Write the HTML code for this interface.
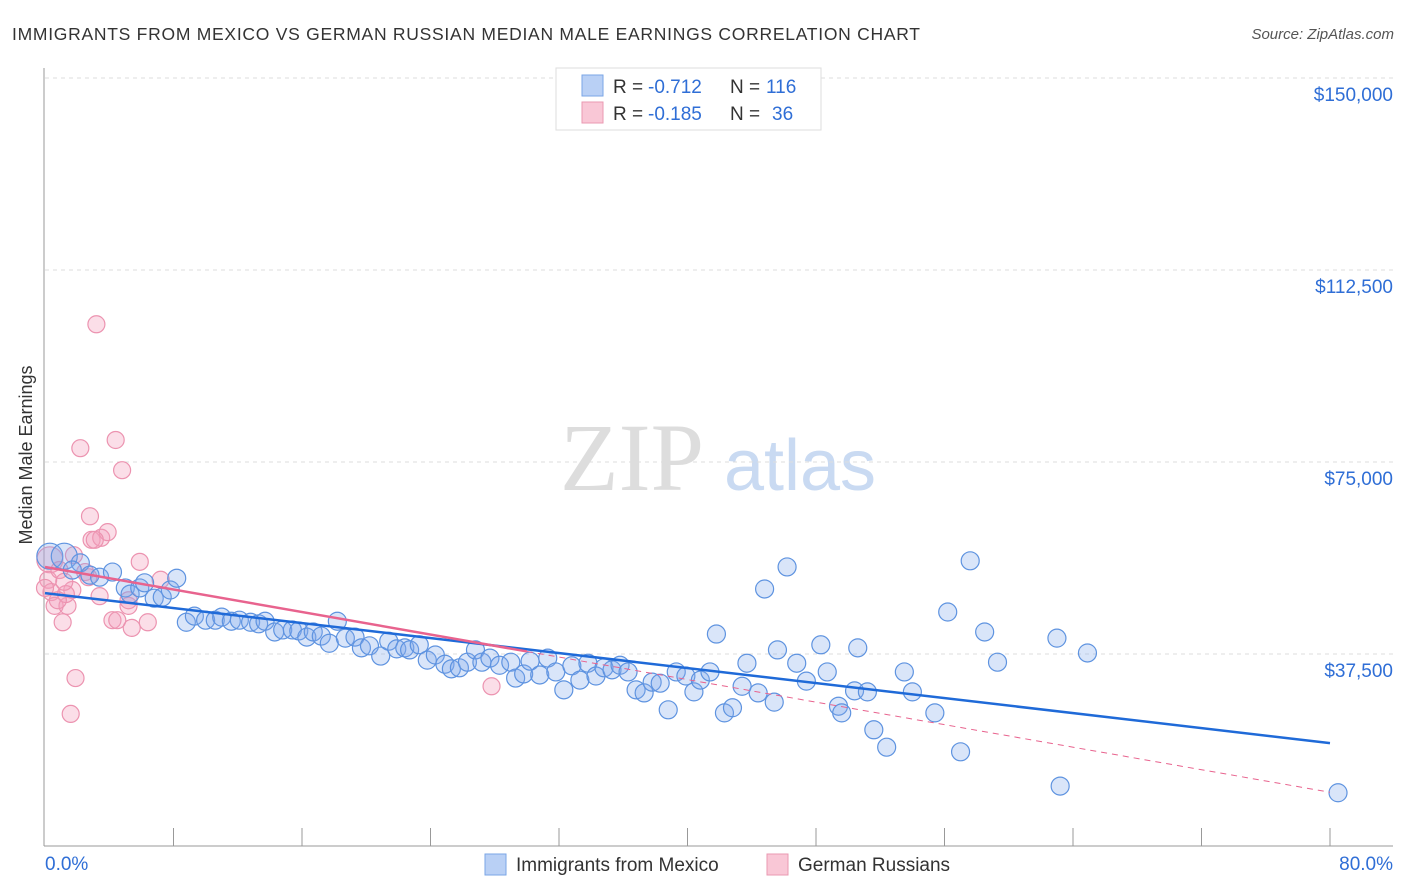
<!DOCTYPE html>
<html><head><meta charset="utf-8"><style>
body{margin:0;background:#fff;font-family:"Liberation Sans",sans-serif;}
svg{display:block}
</style></head><body>
<svg id="chart" width="1406" height="892">
<text x="12" y="40" font-size="17.5" fill="#333" textLength="908" lengthAdjust="spacing">IMMIGRANTS FROM MEXICO VS GERMAN RUSSIAN MEDIAN MALE EARNINGS CORRELATION CHART</text>
<text x="1394" y="39" font-size="15" fill="#555" font-style="italic" text-anchor="end">Source: ZipAtlas.com</text>
<text x="32" y="455" font-size="18" fill="#333" text-anchor="middle" transform="rotate(-90 32 455)">Median Male Earnings</text>
<g>
<text x="632" y="490" font-size="96" font-family="Liberation Serif,serif" fill="#ddd" text-anchor="middle">ZIP</text>
<text x="800" y="490" font-size="72" fill="#c9daf2" text-anchor="middle">atlas</text>
</g>
<g id="grid"></g><g id="axes"></g><g id="marks"></g>
<g>
<rect x="556" y="68" width="265" height="62" fill="#fff" stroke="#ddd"/>
<rect x="582" y="75" width="21" height="21" fill="#b9d0f5" stroke="#7aa6e6"/>
<rect x="582" y="102" width="21" height="21" fill="#f9c7d6" stroke="#ea98b1"/>
<text x="613" y="93" font-size="19" fill="#333">R =</text><text x="648" y="93" font-size="19" fill="#2f6ed6">-0.712</text>
<text x="730" y="93" font-size="19" fill="#333">N =</text><text x="766" y="93" font-size="19" fill="#2f6ed6">116</text>
<text x="613" y="120" font-size="19" fill="#333">R =</text><text x="648" y="120" font-size="19" fill="#2f6ed6">-0.185</text>
<text x="730" y="120" font-size="19" fill="#333">N =</text><text x="772" y="120" font-size="19" fill="#2f6ed6">36</text>
</g>
<g>
<rect x="485" y="854" width="21" height="21" fill="#b9d0f5" stroke="#7aa6e6"/>
<text x="516" y="871" font-size="19" fill="#333">Immigrants from Mexico</text>
<rect x="767" y="854" width="21" height="21" fill="#f9c7d6" stroke="#ea98b1"/>
<text x="798" y="871" font-size="19" fill="#333">German Russians</text>
</g>
</svg>
<script>
const yTicks=[37500,75000,112500,150000];
const yTickLabels=["$37,500","$75,000","$112,500","$150,000"];
const xLabels=["0.0%","80.0%"];
const mexX=[0.3,1.2,2.2,1.7,2.8,3.4,4.2,5.0,5.3,5.9,6.2,6.8,7.3,7.8,8.2,8.8,9.3,10.0,10.6,11.0,11.6,12.1,12.8,13.3,13.7,14.3,14.8,15.4,15.8,16.3,16.7,17.2,17.7,18.2,18.7,19.3,19.7,20.2,20.9,21.4,21.9,22.4,22.7,23.3,23.8,24.3,24.9,25.3,25.8,26.3,26.8,27.2,27.7,28.3,29.0,29.3,29.8,30.2,30.8,31.3,31.8,32.3,32.8,33.3,33.8,34.3,34.8,35.3,35.8,36.3,36.8,37.3,37.8,38.3,38.8,39.3,39.9,40.4,40.8,41.4,41.8,42.3,42.8,43.4,43.7,44.4,44.8,45.4,45.6,46.2,46.8,47.4,48.3,48.7,49.4,49.6,50.4,50.6,51.2,51.6,52.4,53.5,54.0,55.4,56.2,57.0,57.6,58.5,59.3,63.0,63.2,64.9,80.5];
const mexY=[56.6,56.6,55.3,53.9,52.9,52.5,53.5,50.4,49.2,50.4,51.4,48.4,48.6,50.0,52.3,43.7,44.9,44.1,44.1,44.7,43.9,44.1,43.7,43.4,43.9,41.8,42.2,42.2,42.0,40.8,41.8,41.0,39.6,43.9,40.6,40.8,38.7,39.1,37.1,40.0,38.5,38.7,38.3,39.3,36.3,37.3,35.5,34.6,34.8,35.9,38.3,35.9,36.7,35.3,35.9,32.8,33.6,36.1,33.4,36.7,34.0,30.5,35.2,32.4,35.7,33.2,34.8,34.4,35.3,34.0,30.5,29.9,32.0,31.8,26.6,34.0,33.2,30.1,32.4,34.0,41.4,26.0,27.0,31.2,35.7,29.9,50.2,28.1,38.3,54.5,35.7,32.2,39.3,34.0,27.3,26.0,30.3,38.7,30.1,22.7,19.3,34.0,30.1,26.0,45.7,18.4,55.7,41.8,35.9,40.6,11.7,37.7,10.4];
const gerX=[0.3,0.2,0.4,0.6,1.1,0.9,1.4,1.6,1.9,1.7,2.2,2.5,2.8,2.9,3.2,3.4,3.5,3.9,4.2,4.4,4.8,5.2,5.4,5.9,6.4,7.2,27.8,1.3,0.8,3.1,1.8,2.7,4.5,5.2,0.0,1.2];
const gerY=[55.9,52.0,49.6,46.9,43.7,53.9,46.9,25.8,32.8,50.0,77.7,53.5,64.4,59.8,101.9,48.8,60.2,61.3,44.1,79.3,73.4,46.9,42.6,55.5,43.7,52.0,31.2,49.2,48.0,59.8,56.8,52.5,44.1,48.0,50.4,51.6];
const mexTrend=[49.4,20.1];
const gerTrend=[54.5,10.5];
const gerSolidEnd=30;
const NS="http://www.w3.org/2000/svg";
const X=p=>45+p/80*1285;
const Y=v=>846-v/37.5*192;
function mk(tag,attrs,parent){const e=document.createElementNS(NS,tag);for(const k in attrs)e.setAttribute(k,attrs[k]);parent.appendChild(e);return e;}
const grid=document.getElementById('grid'),axes=document.getElementById('axes'),marks=document.getElementById('marks');
yTicks.forEach((t,i)=>{
 const l=mk('line',{x1:45,x2:1393,y1:Y(t/1000),y2:Y(t/1000),stroke:'#ddd','stroke-dasharray':'4,4'},grid);
 
 
 const tx=mk('text',{x:1393,y:Y(t/1000)+23,'font-size':19,fill:'#2f6ed6','text-anchor':'end'},axes);
 tx.textContent=yTickLabels[i];
 
 
});
let a=mk('line',{x1:44,x2:44,y1:68,y2:846,stroke:'#999'},axes);


a=mk('line',{x1:44,x2:1393,y1:846,y2:846,stroke:'#999'},axes);


for(let i=1;i<=10;i++){
 const t=mk('line',{x1:X(i*8),x2:X(i*8),y1:828,y2:846,stroke:'#999'},axes);
 
 
}
[[0,'start',45],[80,'end',1393]].forEach((d,i)=>{
 const t=mk('text',{x:d[2],y:870,'font-size':19,fill:'#2f6ed6','text-anchor':d[1]},axes);
 t.textContent=xLabels[i];
 
 
});
gerX.forEach((x,i)=>{
 const c=mk('circle',{cx:X(x),cy:Y(gerY[i]),r:i==0?13:8.5,fill:'rgba(244,160,188,0.35)',stroke:'#ec93b0','stroke-width':1.2},marks);
 
 
});
mexX.forEach((x,i)=>{
 const c=mk('circle',{cx:X(x),cy:Y(mexY[i]),r:i<2?13:9,fill:'rgba(130,170,235,0.3)',stroke:'#5e93e0','stroke-width':1.2},marks);
 
 
});
let t=mk('line',{x1:X(0),y1:Y(mexTrend[0]),x2:X(80),y2:Y(mexTrend[1]),stroke:'#1f6ad8','stroke-width':2.5},marks);


const gAt=p=>gerTrend[0]+(gerTrend[1]-gerTrend[0])*p/80;
t=mk('line',{x1:X(0),y1:Y(gerTrend[0]),x2:X(gerSolidEnd),y2:Y(gAt(gerSolidEnd)),stroke:'#e8638e','stroke-width':2.5},marks);


t=mk('line',{x1:X(gerSolidEnd),y1:Y(gAt(gerSolidEnd)),x2:X(80),y2:Y(gerTrend[1]),stroke:'#e8638e','stroke-width':1,'stroke-dasharray':'6,5'},marks);


</script>
</body></html>
